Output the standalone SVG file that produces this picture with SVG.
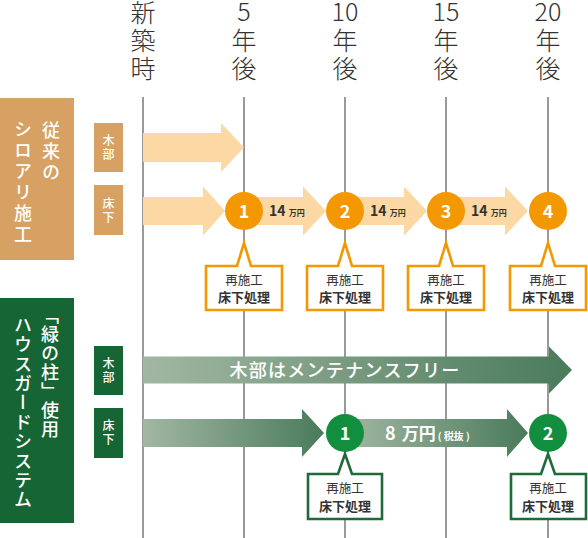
<svg xmlns="http://www.w3.org/2000/svg" width="588" height="538" viewBox="0 0 588 538">
<defs>
<style>
text{font-family:"Noto Sans CJK JP","Noto Sans",sans-serif;}
.hdr{font-size:25px;font-weight:300;fill:#333;text-anchor:middle;}
.vline{stroke:#555;stroke-width:1.2;fill:none;}
.vt{writing-mode:vertical-rl;font-size:18px;font-weight:500;fill:#fff;}
.lbl{font-size:12px;font-weight:500;fill:#fff;text-anchor:middle;}
.oarr{fill:#FBD8A4;}
.ocirc{fill:#F39800;}
.gcirc{fill:#118F3E;}
.num{font-size:18px;font-weight:700;fill:#fff;text-anchor:middle;}
.ocall{fill:#fff;stroke:#F39800;stroke-width:2.6;}
.gcall{fill:#fff;stroke:#1F6A3B;stroke-width:2.6;}
.c1{font-size:12.5px;font-weight:400;fill:#333;text-anchor:middle;}
.c2{font-size:13px;font-weight:700;fill:#333;text-anchor:middle;}
.pr{font-size:14px;font-weight:700;fill:#333;}
</style>
<linearGradient id="gg" x1="0" y1="0" x2="1" y2="0">
<stop offset="0" stop-color="#A2B7A2"/>
<stop offset="1" stop-color="#4A7B5B"/>
</linearGradient>
</defs>
<rect width="588" height="538" fill="#fff"/>

<g id="headers">
<text class="hdr" x="143"><tspan x="143" y="22">新</tspan><tspan x="143" y="50">築</tspan><tspan x="143" y="78">時</tspan></text>
<text class="hdr" x="244"><tspan x="244" y="21">5</tspan><tspan x="244" y="50">年</tspan><tspan x="244" y="78">後</tspan></text>
<text class="hdr" x="345"><tspan x="345" y="21">10</tspan><tspan x="345" y="50">年</tspan><tspan x="345" y="78">後</tspan></text>
<text class="hdr" x="446"><tspan x="446" y="21">15</tspan><tspan x="446" y="50">年</tspan><tspan x="446" y="78">後</tspan></text>
<text class="hdr" x="548"><tspan x="548" y="21">20</tspan><tspan x="548" y="50">年</tspan><tspan x="548" y="78">後</tspan></text>
</g>

<g id="timelines">
<line class="vline" x1="143" y1="97" x2="143" y2="538"/>
<line class="vline" x1="244" y1="97" x2="244" y2="538"/>
<line class="vline" x1="345" y1="97" x2="345" y2="538"/>
<line class="vline" x1="446" y1="97" x2="446" y2="538"/>
<line class="vline" x1="548" y1="97" x2="548" y2="538"/>
</g>

<g id="conventional">
<rect x="0" y="98" width="74" height="162" fill="#D6A163"/>
<text class="vt" x="51" y="121" letter-spacing="3">従来の</text>
<text class="vt" x="23" y="120" letter-spacing="3">シロアリ施工</text>
</g>

<g id="greensystem">
<rect x="0" y="298" width="74" height="225" fill="#156535"/>
<text class="vt" x="50" y="306" letter-spacing="1">「緑の柱」使用</text>
<text class="vt" x="23" y="316" letter-spacing="1.4">ハウスガードシステム</text>
</g>

<g id="label-o-wood">
<rect x="94" y="123" width="29" height="49" fill="#D6A163"/>
<text class="lbl"><tspan x="108.5" y="145.3">木</tspan><tspan x="108.5" y="159.3">部</tspan></text>
</g>
<g id="label-o-floor">
<rect x="94" y="185" width="29" height="50" fill="#D6A163"/>
<text class="lbl"><tspan x="108.5" y="207.8">床</tspan><tspan x="108.5" y="221.8">下</tspan></text>
</g>
<g id="label-g-wood">
<rect x="94" y="346" width="29" height="49" fill="#156535"/>
<text class="lbl"><tspan x="108.5" y="367.8">木</tspan><tspan x="108.5" y="381.8">部</tspan></text>
</g>
<g id="label-g-floor">
<rect x="94" y="408" width="29" height="50" fill="#156535"/>
<text class="lbl"><tspan x="108.5" y="430.3">床</tspan><tspan x="108.5" y="444.3">下</tspan></text>
</g>

<g id="connectors">
<path class="oarr" d="M143,133 H221 V123 L244,147.5 L221,172 V162 H143 Z"/>
<path class="oarr" d="M143,197 H203 V186.5 L225,211 L203,235.5 V225 H143 Z"/>
<path class="oarr" d="M244,197 H303 V186.5 L326,211 L303,235.5 V225 H244 Z"/>
<path class="oarr" d="M345,197 H404 V186.5 L427,211 L404,235.5 V225 H345 Z"/>
<path class="oarr" d="M446,197 H505 V186.5 L528,211 L505,235.5 V225 H446 Z"/>
<path fill="url(#gg)" d="M143,356.5 H549 V346.5 L572,370 L549,393.5 V383.5 H143 Z"/>
<path fill="url(#gg)" d="M143,419 H302 V409 L324,433 L302,457 V447 H143 Z"/>
<path fill="url(#gg)" d="M345,419 H507 V409 L528,433 L507,457 V447 H345 Z"/>
<text x="345" y="376.5" font-size="18" font-weight="500" fill="#fff" text-anchor="middle" letter-spacing="1.3">木部はメンテナンスフリー</text>
<text class="pr" x="269" y="215.5">14 <tspan font-size="8">万円</tspan></text>
<text class="pr" x="370" y="215.5">14 <tspan font-size="8">万円</tspan></text>
<text class="pr" x="471" y="215.5">14 <tspan font-size="8">万円</tspan></text>
<text x="385" y="439.5" font-size="18" font-weight="700" fill="#fff">8 <tspan font-size="17" dx="2">万円</tspan><tspan font-size="10" dx="2">( 税抜 )</tspan></text>
</g>

<g id="o-step1">
<circle class="ocirc" cx="244" cy="211" r="19"/>
<text class="num" x="244" y="217.5">1</text>
</g>
<g id="o-step2">
<circle class="ocirc" cx="345" cy="211" r="19"/>
<text class="num" x="345" y="217.5">2</text>
</g>
<g id="o-step3">
<circle class="ocirc" cx="446" cy="211" r="19"/>
<text class="num" x="446" y="217.5">3</text>
</g>
<g id="o-step4">
<circle class="ocirc" cx="548" cy="211" r="19"/>
<text class="num" x="548" y="217.5">4</text>
</g>
<g id="g-step1">
<circle class="gcirc" cx="345" cy="433" r="19"/>
<text class="num" x="345" y="439.5">1</text>
</g>
<g id="g-step2">
<circle class="gcirc" cx="548" cy="433" r="19"/>
<text class="num" x="548" y="439.5">2</text>
</g>

<g id="o-call1">
<path class="ocall" d="M206,266 H237 L244,243 L251,266 H282 V310 H206 Z"/>
<text class="c1" x="244" y="284.5">再施工</text>
<text class="c2" x="244" y="302">床下処理</text>
</g>
<g id="o-call2">
<path class="ocall" d="M307,266 H338 L345,243 L352,266 H383 V310 H307 Z"/>
<text class="c1" x="345" y="284.5">再施工</text>
<text class="c2" x="345" y="302">床下処理</text>
</g>
<g id="o-call3">
<path class="ocall" d="M408,266 H439 L446,243 L453,266 H484 V310 H408 Z"/>
<text class="c1" x="446" y="284.5">再施工</text>
<text class="c2" x="446" y="302">床下処理</text>
</g>
<g id="o-call4">
<path class="ocall" d="M510,266 H541 L548,243 L555,266 H586 V310 H510 Z"/>
<text class="c1" x="548" y="284.5">再施工</text>
<text class="c2" x="548" y="302">床下処理</text>
</g>
<g id="g-call1">
<path class="gcall" d="M308,474 H338 L345,454 L352,474 H382 V519 H308 Z"/>
<text class="c1" x="345" y="493">再施工</text>
<text class="c2" x="345" y="511">床下処理</text>
</g>
<g id="g-call2">
<path class="gcall" d="M511,474 H541 L548,454 L555,474 H586 V519 H511 Z"/>
<text class="c1" x="548" y="493">再施工</text>
<text class="c2" x="548" y="511">床下処理</text>
</g>
</svg>
